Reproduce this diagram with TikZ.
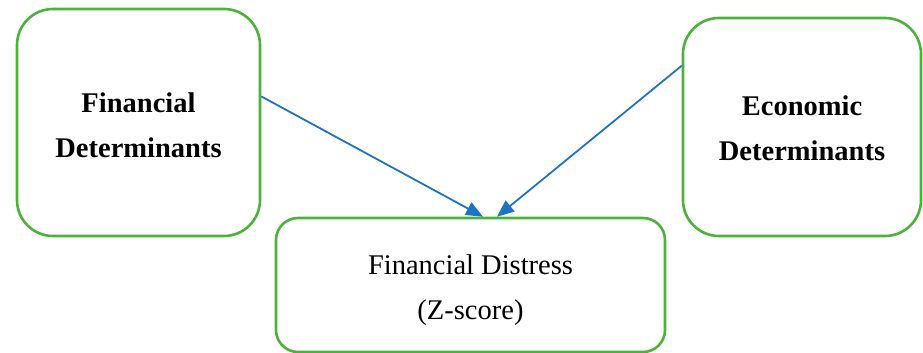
\documentclass[tikz,border=0pt]{standalone}
\usepackage{fontspec}
\setmainfont{Liberation Serif}
\usetikzlibrary{arrows.meta,calc}
\definecolor{boxgreen}{RGB}{76,178,60}
\definecolor{arrowblue}{RGB}{30,115,200}
\begin{document}
\begin{tikzpicture}[x=1pt,y=1pt,
  frame/.style={draw=boxgreen,line width=2.6pt,inner sep=0pt},
  factor/.style={frame,rounded corners=36pt},
  outcome/.style={frame,rounded corners=22pt},
  boldtext/.style={align=center,inner sep=0pt,font=\fontsize{28.5}{45}\selectfont\bfseries},
  plaintext/.style={align=center,inner sep=0pt,font=\fontsize{28.5}{45}\selectfont},
  link/.style={draw=arrowblue,line width=1.8pt,
    -{Triangle[length=17pt,width=14pt]}}]
  \useasboundingbox (0,0) rectangle (923,353);
  % boxes
  \node[factor,minimum width=243pt,minimum height=227pt] (fin) at (138.5,230.5) {};
  \node[factor,minimum width=238pt,minimum height=218pt] (eco) at (802,226) {};
  \node[outcome,minimum width=389pt,minimum height=134pt] (dist) at (470.5,68) {};
  % box texts
  \node[boldtext] (finT) at ($(fin.center)+(0,-3)$) {Financial\\Determinants};
  \node[boldtext] (ecoT) at ($(eco.center)+(0,-1)$) {Economic\\Determinants};
  \node[plaintext] (distT) at ($(dist.center)+(0,-5)$) {Financial Distress\\(Z-score)};
  % influence arrows
  \coordinate (inL) at ($(dist.north)+(12.5,0)$);
  \coordinate (inR) at ($(dist.north)+(26.5,0)$);
  \draw[link] (fin.12.75) -- (inL);
  \draw[link] (eco.153.3) -- (inR);
\end{tikzpicture}
\end{document}
